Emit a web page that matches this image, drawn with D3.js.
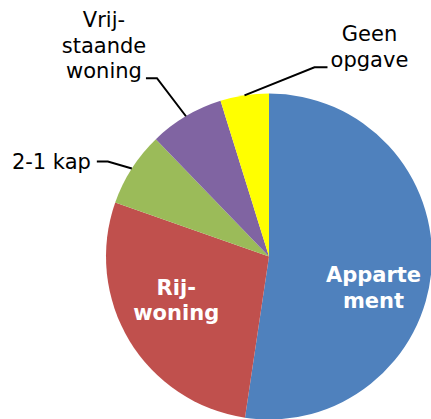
<!DOCTYPE html>
<html lang="nl">
<head>
<meta charset="UTF-8">
<title>Woningtype</title>
<script src="https://d3js.org/d3.v7.min.js"></script>
<style>
    body { margin: 0; background: #fff; }
    svg { display: block; }
    .lbl { font-family: "DejaVu Sans", Verdana, sans-serif; font-size: 21px; fill: #000; }
    .lbl-in { font-weight: bold; fill: #fff; }
    .leader { fill: none; stroke: #000; stroke-width: 2; }
</style>
</head>
<body>
<div id="chart"></div>
<script>
// data (clockwise from 12 o'clock)
const categories = ["Appartement", "Rij-woning", "2-1 kap", "Vrij-staande woning", "Geen opgave"];
const values = [52.3, 28.0, 7.4, 7.4, 4.8];
const colors = ["#4F81BD", "#C0504D", "#9BBB59", "#8064A2", "#FFFF00"];
// label lines as drawn in the chart
const labelLines = [["Apparte", "ment"], ["Rij-", "woning"], ["2-1 kap"], ["Vrij-", "staande", "woning"], ["Geen", "opgave"]];

const width = 431, height = 419;
const cx = 269, cy = 256.5, radius = 163;
const lineH = 25.5;

const svg = d3.select("#chart").append("svg")
    .attr("width", width)
    .attr("height", height);

const g = svg.append("g").attr("transform", `translate(${cx},${cy})`);

const pie = d3.pie().sort(null).value(d => d)(values);
const arc = d3.arc().innerRadius(0).outerRadius(radius);

g.selectAll("path.slice")
    .data(pie)
    .enter()
    .append("path")
    .attr("class", "slice")
    .attr("d", arc)
    .attr("fill", (d, i) => colors[i]);

// inside labels (white bold) - offset from centroid
const inside = {
    0: { r: 0.67, da: 0.22 },
    1: { r: 0.63, da: 0.10 }
};
Object.keys(inside).forEach(k => {
    const d = pie[k];
    const a = (d.startAngle + d.endAngle) / 2 + inside[k].da;
    const r = radius * inside[k].r;
    const x = Math.sin(a) * r, y = -Math.cos(a) * r;
    const lines = labelLines[k];
    const t = g.append("text")
        .attr("class", "lbl lbl-in")
        .attr("text-anchor", "middle");
    lines.forEach((s, j) => {
        t.append("tspan")
            .attr("x", x)
            .attr("y", y + (j - (lines.length - 1) / 2) * lineH + 7)
            .text(s);
    });
});

// outside labels with leader lines: elbow offset and label offset from the arc point
const outside = {
    2: { elbow: [-24, -7], end: [-35, -7], anchor: "end", tx: -41, ty: 1 },
    3: { elbow: [-29, -38], end: [-40, -38], anchor: "middle", tx: -82, ty: -89 },
    4: { elbow: [70, -28], end: [83, -28], anchor: "middle", tx: 125, ty: -54 }
};
Object.keys(outside).forEach(k => {
    const d = pie[k];
    const o = outside[k];
    const a = (d.startAngle + d.endAngle) / 2;
    const px = Math.sin(a) * radius, py = -Math.cos(a) * radius;
    g.append("polyline")
        .attr("class", "leader")
        .attr("points", [[px, py], [px + o.elbow[0], py + o.elbow[1]], [px + o.end[0], py + o.end[1]]].map(p => p.join(",")).join(" "));
    const lines = labelLines[k];
    const t = g.append("text")
        .attr("class", "lbl")
        .attr("text-anchor", o.anchor);
    lines.forEach((s, j) => {
        t.append("tspan")
            .attr("x", px + o.tx)
            .attr("y", py + o.ty + j * lineH)
            .text(s);
    });
});
</script>
</body>
</html>
